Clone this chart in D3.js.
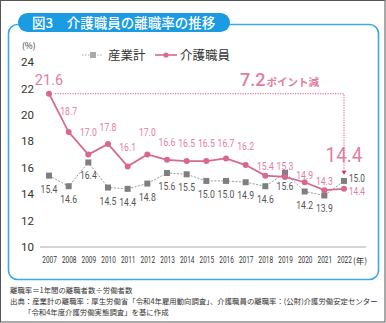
<!DOCTYPE html>
<html>
<head>
<meta charset="utf-8">
<script src="https://cdn.jsdelivr.net/npm/d3@7"></script>
<style>
  body { margin: 0; background: #fff; }
  svg { display: block; font-family: "Noto Sans CJK JP", sans-serif; }
  .num { font-family: Roboto, "DejaVu Sans", sans-serif; }
</style>
</head>
<body>
<script>
// data
const years = [2007, 2008, 2009, 2010, 2011, 2012, 2013, 2014, 2015, 2016, 2017, 2018, 2019, 2020, 2021, 2022]
const careRate = [21.6, 18.7, 17.0, 17.8, 16.1, 17.0, 16.6, 16.5, 16.5, 16.7, 16.2, 15.4, 15.3, 14.9, 14.3, 14.4]
const allRate = [15.4, 14.6, 16.4, 14.5, 14.4, 14.8, 15.6, 15.5, 15.0, 15.0, 14.9, 14.6, 15.6, 14.2, 13.9, 15.0]
const yTicks = [10, 12, 14, 16, 18, 20, 22, 24]
const seriesNames = ['産業計', '介護職員']

// label lift above the care points (px), tuned by eye
const careLift = [9, 17, 19, 13, 15, 19, 14, 14, 14, 11, 15, 6, 7, 3, 5, 0]

const width = 386
const height = 323
const pink = '#d9688e'
const pinkText = '#e27c9f'
const grey = '#7f7f7f'
const fmt = d3.format('.1f')

const svg = d3.select('body').append('svg')
  .attr('width', width)
  .attr('height', height)

// outer frame
svg.append('rect')
  .attr('x', 0.5).attr('y', 0.5)
  .attr('width', width - 1.5).attr('height', height - 1.5)
  .attr('fill', 'none').attr('stroke', '#555')

// panel
svg.append('rect')
  .attr('x', 8.5).attr('y', 24.5)
  .attr('width', 370).attr('height', 255)
  .attr('rx', 9)
  .attr('fill', 'none').attr('stroke', '#3aa9ea').attr('stroke-width', 1.6)

// title tab
svg.append('rect')
  .attr('x', 18).attr('y', 13)
  .attr('width', 212).attr('height', 19)
  .attr('rx', 9.5)
  .attr('fill', '#1a9be2')
svg.append('text')
  .attr('x', 32).attr('y', 27.5)
  .attr('fill', '#fff')
  .attr('font-size', 13.5)
  .attr('font-weight', 500)
  .text('図3　介護職員の離職率の推移')

const x = d3.scaleLinear().domain([2007, 2022]).range([49, 344])
const y = d3.scaleLinear().domain([10, 24]).range([247, 62])

// y axis labels
const yAxis = d3.axisLeft(y).tickValues(yTicks).tickSize(0).tickPadding(0)
const yg = svg.append('g')
  .attr('transform', 'translate(34,0)')
  .call(yAxis)
yg.select('.domain').remove()
yg.selectAll('text')
  .attr('class', 'num')
  .attr('font-size', 11.5)
  .attr('fill', '#333')

svg.append('text')
  .attr('x', 22).attr('y', 49)
  .attr('font-size', 8.5)
  .attr('fill', '#333')
  .text('(%)')

// baseline
svg.append('line')
  .attr('x1', 40).attr('x2', 366)
  .attr('y1', y(10)).attr('y2', y(10))
  .attr('stroke', '#aaa').attr('stroke-width', 1)

// x axis, condensed labels
const xAxis = d3.axisBottom(x).tickValues(years).tickFormat(d3.format('d')).tickSize(0).tickPadding(0)
const xg = svg.append('g')
  .attr('transform', 'translate(0,256)')
  .call(xAxis)
xg.select('.domain').remove()
xg.selectAll('text')
  .attr('class', 'num')
  .attr('font-size', 9.5)
  .attr('fill', '#333')
  .attr('transform', 'scale(0.68,1)')
svg.append('text')
  .attr('x', 353).attr('y', 264)
  .attr('font-size', 8.5)
  .attr('fill', '#333')
  .text('(年)')

// legend
const leg = svg.append('g')
leg.append('line')
  .attr('x1', 82).attr('x2', 103).attr('y1', 55).attr('y2', 55)
  .attr('stroke', '#aaa').attr('stroke-dasharray', '1.5,1.5')
leg.append('rect')
  .attr('x', 90).attr('y', 52).attr('width', 6).attr('height', 6)
  .attr('fill', '#aaa')
leg.append('text')
  .attr('x', 108).attr('y', 60)
  .attr('font-size', 12.5).attr('fill', '#333')
  .text(seriesNames[0])
leg.append('line')
  .attr('x1', 155).attr('x2', 177).attr('y1', 55).attr('y2', 55)
  .attr('stroke', pink).attr('stroke-width', 1.6)
leg.append('circle')
  .attr('cx', 166).attr('cy', 55).attr('r', 2.6)
  .attr('fill', pink)
leg.append('text')
  .attr('x', 180).attr('y', 60)
  .attr('font-size', 12.5).attr('fill', '#333')
  .text(seriesNames[1])

// annotation: 21.6 -> 14.4
const first = careRate[0]
const last = careRate[careRate.length - 1]
const ax = x(years[years.length - 1])
svg.append('path')
  .attr('d', `M${x(years[0]) + 6},${y(first)} H${ax} V${y(last) - 18}`)
  .attr('fill', 'none')
  .attr('stroke', pinkText)
  .attr('stroke-width', 1.2)
  .attr('stroke-dasharray', '1.2,1.3')
svg.append('path')
  .attr('d', `M${ax - 2.5},${y(last) - 18} L${ax + 2.5},${y(last) - 18} L${ax},${y(last) - 14} Z`)
  .attr('fill', '#d0306e')

const note = svg.append('text')
  .attr('x', 240).attr('y', 86)
  .attr('fill', pinkText)
note.append('tspan')
  .attr('class', 'num')
  .attr('font-size', 18)
  .attr('font-weight', 500)
  .text(fmt(first - last))
note.append('tspan')
  .attr('font-size', 10.5)
  .attr('font-weight', 700)
  .attr('dx', 1)
  .text('ポイント減')

svg.append('text')
  .attr('class', 'num')
  .attr('transform', `translate(${ax},162) scale(0.9,1)`)
  .attr('text-anchor', 'middle')
  .attr('font-size', 21)
  .attr('fill', pinkText)
  .text(fmt(last))

// industry series
const line = d3.line().x((d, i) => x(years[i])).y(d => y(d))
svg.append('path')
  .datum(allRate)
  .attr('d', line)
  .attr('fill', 'none')
  .attr('stroke', '#999')
  .attr('stroke-width', 1)
  .attr('stroke-dasharray', '2,1.5')
svg.append('g').selectAll('rect')
  .data(allRate)
  .join('rect')
  .attr('x', (d, i) => x(years[i]) - 3)
  .attr('y', d => y(d) - 3)
  .attr('width', 6).attr('height', 6)
  .attr('fill', grey)

const lastI = years.length - 1
svg.append('g').selectAll('text')
  .data(allRate)
  .join('text')
  .attr('class', 'num')
  .attr('transform', (d, i) => i === lastI
    ? `translate(${x(years[i]) + 5},${y(d) + 1}) scale(0.82,1)`
    : `translate(${x(years[i])},${y(d) + 17}) scale(0.82,1)`)
  .attr('text-anchor', (d, i) => i === lastI ? 'start' : 'middle')
  .attr('font-size', (d, i) => i === lastI ? 10 : 10.5)
  .attr('fill', '#555')
  .text(d => fmt(d))

// care series
svg.append('path')
  .datum(careRate)
  .attr('d', line)
  .attr('fill', 'none')
  .attr('stroke', pink)
  .attr('stroke-width', 1.8)
svg.append('g').selectAll('circle')
  .data(careRate)
  .join('circle')
  .attr('cx', (d, i) => x(years[i]))
  .attr('cy', d => y(d))
  .attr('r', 3)
  .attr('fill', pink)

svg.append('g').selectAll('text')
  .data(careRate)
  .join('text')
  .attr('class', 'num')
  .attr('transform', (d, i) => i === lastI
    ? `translate(${x(years[i]) + 5},${y(d) + 6}) scale(0.82,1)`
    : `translate(${x(years[i])},${y(d) - careLift[i]}) scale(${i === 0 ? 1 : 0.82},1)`)
  .attr('text-anchor', (d, i) => i === lastI ? 'start' : 'middle')
  .attr('font-size', (d, i) => i === 0 ? 14.5 : i === lastI ? 10 : 10.5)
  .attr('fill', pinkText)
  .text(d => fmt(d))

// footnotes
const foot = [
  { x: 10, y: 293, t: '離職率＝1年間の離職者数÷労働者数' },
  { x: 10, y: 304, t: '出典：産業計の離職率：厚生労働省「令和4年雇用動向調査」、介護職員の離職率：(公財)介護労働安定センター' },
  { x: 24, y: 315, t: '「令和4年度介護労働実態調査」を基に作成' }
]
svg.append('g').selectAll('text')
  .data(foot)
  .join('text')
  .attr('x', d => d.x).attr('y', d => d.y)
  .attr('font-size', 7.4)
  .attr('fill', '#333')
  .text(d => d.t)
</script>
</body>
</html>
